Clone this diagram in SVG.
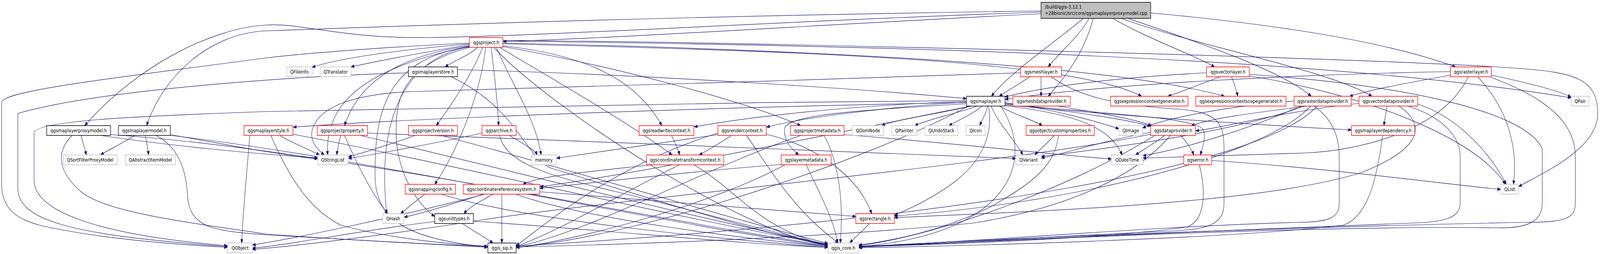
<svg xmlns="http://www.w3.org/2000/svg" width="4932" height="649" viewBox="0 0 4932 649" preserveAspectRatio="none">
<style>
svg{width:100vw;height:100vh}
.e{fill:none;stroke:#191970;stroke-width:1.2}
.b{fill:#ffffff;stroke-width:1.5}
.red{stroke:#ff0000}
.blk{stroke:#000000}
.gry{stroke:#bfbfbf}
text{font-family:"DejaVu Sans","Liberation Sans",sans-serif;font-size:13px;fill:#000000}
.c{text-anchor:middle}
</style>
<defs>
<marker id="arr" markerWidth="10" markerHeight="8" refX="10" refY="4" orient="auto" markerUnits="userSpaceOnUse"><path d="M0,0 L10,4 L0,8 z" fill="#191970" stroke="#191970"/></marker>
</defs>
<rect x="0" y="0" width="4932" height="649" fill="#ffffff"/>
<g id="edges">
<path class="e" marker-end="url(#arr)" d="M3209,31 C2500,50 1700,92 1323,96 C1050,99 930,58 820,64 C650,72 420,170 261,321"/>
<path class="e" marker-end="url(#arr)" d="M3209,28 C2500,36 1700,52 820,79 C640,85 500,200 452,321"/>
<path class="e" marker-end="url(#arr)" d="M3209,35 C2600,60 1900,98 1551,106"/>
<path class="e" marker-end="url(#arr)" d="M3339,47 C3250,110 3120,180 3056,246"/>
<path class="e" marker-end="url(#arr)" d="M3357,47 C3330,90 3270,130 3231,171"/>
<path class="e" marker-end="url(#arr)" d="M3370,47 C3340,140 3280,200 3231,246"/>
<path class="e" marker-end="url(#arr)" d="M3430,47 C3540,100 3680,140 3744,171"/>
<path class="e" marker-end="url(#arr)" d="M3456,47 C3700,120 4100,180 4229,246"/>
<path class="e" marker-end="url(#arr)" d="M3477,47 C3700,110 3950,180 4042,246"/>
<path class="e" marker-end="url(#arr)" d="M3547,33 C3900,60 4250,100 4487,171"/>
<path class="e" marker-end="url(#arr)" d="M1447,110 C1200,120 950,135 820,148 C400,195 5,230 5,262 L5,470 C5,540 60,560 120,575 C300,610 550,625 701,632"/>
<path class="e" marker-end="url(#arr)" d="M1447,112 C1200,130 1040,150 962,172"/>
<path class="e" marker-end="url(#arr)" d="M1447,114 C1300,135 1150,158 1082,171"/>
<path class="e" marker-end="url(#arr)" d="M1472,121 C1450,140 1400,155 1372,171"/>
<path class="e" marker-end="url(#arr)" d="M1488,121 C1450,200 1380,280 1345,321"/>
<path class="e" marker-end="url(#arr)" d="M1497,121 C1480,250 1400,400 1340,471"/>
<path class="e" marker-end="url(#arr)" d="M1514,121 C1525,200 1535,270 1537,321"/>
<path class="e" marker-end="url(#arr)" d="M1447,117 C1250,140 1110,200 1062,321"/>
<path class="e" marker-end="url(#arr)" d="M1447,118 C1150,170 1000,250 1010,396"/>
<path class="e" marker-end="url(#arr)" d="M1447,119 C1250,150 1160,300 1192,546"/>
<path class="e" marker-end="url(#arr)" d="M1447,121 C1230,170 1221,260 1221,340 C1221,430 1280,520 1340,553"/>
<path class="e" marker-end="url(#arr)" d="M1447,120 C1180,150 1155,300 1156,450 C1158,560 1250,610 1503,631"/>
<path class="e" marker-end="url(#arr)" d="M1530,121 C1580,220 1650,300 1668,396"/>
<path class="e" marker-end="url(#arr)" d="M1540,121 C1700,200 1950,320 2072,396"/>
<path class="e" marker-end="url(#arr)" d="M1550,117 C1800,140 1960,200 2040,321"/>
<path class="e" marker-end="url(#arr)" d="M1550,119 C1900,170 2300,260 2468,321"/>
<path class="e" marker-end="url(#arr)" d="M1550,112 C2400,130 3300,150 3519,246"/>
<path class="e" marker-end="url(#arr)" d="M1550,110 C2400,125 3400,160 3775,246"/>
<path class="e" marker-end="url(#arr)" d="M1550,105 C2500,115 4000,135 4843,250"/>
<path class="e" marker-end="url(#arr)" d="M1550,103 C2500,110 4300,150 4684,175 C4850,185 4925,200 4925,290 C4925,380 4760,440 4681,477"/>
<path class="e" marker-end="url(#arr)" d="M1522,121 C1700,280 2300,600 2552,627"/>
<path class="e" marker-end="url(#arr)" d="M1410,178 C2000,190 2700,230 2979,252"/>
<path class="e" marker-end="url(#arr)" d="M1259,186 C900,195 300,230 55,290 L55,480 C55,560 200,600 701,630"/>
<path class="e" marker-end="url(#arr)" d="M1391,196 C1600,280 1615,400 1700,430 C1900,480 2350,600 2552,626"/>
<path class="e" marker-end="url(#arr)" d="M250,346 C255,365 262,380 266,396"/>
<path class="e" marker-end="url(#arr)" d="M310,346 C500,370 800,395 979,403"/>
<path class="e" marker-end="url(#arr)" d="M341,344 C1000,380 2000,560 2552,628"/>
<path class="e" marker-end="url(#arr)" d="M222,346 C170,390 180,440 250,490 C330,545 600,570 820,598 C1100,615 1350,625 1503,630"/>
<path class="e" marker-end="url(#arr)" d="M415,346 C380,365 330,385 310,396"/>
<path class="e" marker-end="url(#arr)" d="M448,346 C452,365 456,380 458,396"/>
<path class="e" marker-end="url(#arr)" d="M525,344 C700,370 880,398 979,406"/>
<path class="e" marker-end="url(#arr)" d="M481,346 C560,380 575,450 578,500 C585,580 650,590 820,600 C1100,615 1350,626 1503,632"/>
<path class="e" marker-end="url(#arr)" d="M525,346 C1100,400 2100,580 2552,630"/>
<path class="e" marker-end="url(#arr)" d="M770,346 C760,450 748,550 745,621"/>
<path class="e" marker-end="url(#arr)" d="M862,346 C900,365 960,385 985,396"/>
<path class="e" marker-end="url(#arr)" d="M835,346 C880,430 940,530 1050,575 C1200,610 1400,625 1503,629"/>
<path class="e" marker-end="url(#arr)" d="M903,343 C1400,420 2100,560 2552,625"/>
<path class="e" marker-end="url(#arr)" d="M1050,346 C1045,365 1040,380 1038,396"/>
<path class="e" marker-end="url(#arr)" d="M1062,346 C1100,420 1150,500 1195,546"/>
<path class="e" marker-end="url(#arr)" d="M1133,340 C1800,360 2800,395 3131,405"/>
<path class="e" marker-end="url(#arr)" d="M1110,346 C1500,420 2200,570 2552,624"/>
<path class="e" marker-end="url(#arr)" d="M1280,346 C1200,370 1120,390 1074,401"/>
<path class="e" marker-end="url(#arr)" d="M1360,346 C1700,420 2300,570 2552,622"/>
<path class="e" marker-end="url(#arr)" d="M1486,340 C1350,365 1150,395 1074,405"/>
<path class="e" marker-end="url(#arr)" d="M1540,346 C1560,420 1700,450 1900,490 C2200,550 2450,610 2552,624"/>
<path class="e" marker-end="url(#arr)" d="M1570,346 C1620,370 1650,385 1656,396"/>
<path class="e" marker-end="url(#arr)" d="M2070,346 C2080,365 2090,380 2095,396"/>
<path class="e" marker-end="url(#arr)" d="M2255,346 C2220,365 2180,385 2155,396"/>
<path class="e" marker-end="url(#arr)" d="M2213,344 C2000,370 1800,395 1716,404"/>
<path class="e" marker-end="url(#arr)" d="M2362,343 C2500,370 2640,440 2687,546"/>
<path class="e" marker-end="url(#arr)" d="M2301,346 C2380,440 2450,540 2585,621"/>
<path class="e" marker-end="url(#arr)" d="M2213,340 C1900,420 1700,560 1591,628"/>
<path class="e" marker-end="url(#arr)" d="M2010,421 C1800,440 1660,450 1612,471"/>
<path class="e" marker-end="url(#arr)" d="M2095,421 C1900,500 1750,580 1591,630"/>
<path class="e" marker-end="url(#arr)" d="M2139,421 C2280,490 2330,580 2552,628"/>
<path class="e" marker-end="url(#arr)" d="M1490,496 C1400,520 1300,545 1246,555"/>
<path class="e" marker-end="url(#arr)" d="M1520,496 C1480,515 1445,530 1430,546"/>
<path class="e" marker-end="url(#arr)" d="M1547,496 L1547,621"/>
<path class="e" marker-end="url(#arr)" d="M1590,496 C1800,560 2300,610 2552,630"/>
<path class="e" marker-end="url(#arr)" d="M1495,496 C1200,560 900,610 778,626"/>
<path class="e" marker-end="url(#arr)" d="M1664,490 C2100,520 2500,545 2638,553"/>
<path class="e" marker-end="url(#arr)" d="M1310,496 C1280,515 1250,535 1235,546"/>
<path class="e" marker-end="url(#arr)" d="M1360,496 C1600,560 2200,610 2552,632"/>
<path class="e" marker-end="url(#arr)" d="M1340,566 C1100,590 900,625 778,634"/>
<path class="e" marker-end="url(#arr)" d="M1425,571 C1460,590 1500,610 1520,621"/>
<path class="e" marker-end="url(#arr)" d="M1459,565 C1900,590 2300,625 2552,632"/>
<path class="e" marker-end="url(#arr)" d="M2680,571 C2660,590 2630,610 2620,621"/>
<path class="e" marker-end="url(#arr)" d="M2410,420 C2100,440 1800,470 1664,481"/>
<path class="e" marker-end="url(#arr)" d="M2485,421 C2530,500 2570,560 2582,621"/>
<path class="e" marker-end="url(#arr)" d="M2420,421 C2200,520 1800,610 1591,633"/>
<path class="e" marker-end="url(#arr)" d="M2602,344 C3000,370 3300,400 3426,406"/>
<path class="e" marker-end="url(#arr)" d="M2540,346 C2590,420 2600,530 2590,621"/>
<path class="e" marker-end="url(#arr)" d="M2470,346 C2200,420 1800,600 1591,630"/>
<path class="e" marker-end="url(#arr)" d="M3250,346 C3230,365 3200,385 3190,396"/>
<path class="e" marker-end="url(#arr)" d="M3263,346 C3250,420 3200,460 3050,530 C2900,590 2750,615 2647,626"/>
<path class="e" marker-end="url(#arr)" d="M3590,346 C3560,365 3520,385 3500,396"/>
<path class="e" marker-end="url(#arr)" d="M3640,346 C3660,365 3675,385 3680,396"/>
<path class="e" marker-end="url(#arr)" d="M3547,338 C3400,360 3270,395 3210,404"/>
<path class="e" marker-end="url(#arr)" d="M3547,343 C3100,420 2000,500 1500,560 C1200,600 900,630 778,637"/>
<path class="e" marker-end="url(#arr)" d="M3608,346 C3500,450 3300,530 3000,570 C2500,610 1900,625 1591,631"/>
<path class="e" marker-end="url(#arr)" d="M3560,346 C3300,480 2900,600 2647,628"/>
<path class="e" marker-end="url(#arr)" d="M3735,410 C4100,430 4450,470 4626,484"/>
<path class="e" marker-end="url(#arr)" d="M3697,421 C3715,480 3720,560 3660,580 C3400,610 2900,625 2647,630"/>
<path class="e" marker-end="url(#arr)" d="M4262,346 C4245,450 4220,550 4143,575 C3800,610 3000,628 2647,633"/>
<path class="e" marker-end="url(#arr)" d="M4276,271 C4272,290 4268,305 4266,321"/>
<path class="e" marker-end="url(#arr)" d="M4370,266 C4500,300 4600,400 4643,471"/>
<path class="e" marker-end="url(#arr)" d="M4340,271 C4450,300 4501,350 4501,400 L4501,520 C4501,560 4440,568 4350,570 C3800,585 3000,620 2647,631"/>
<path class="e" marker-end="url(#arr)" d="M4189,264 C3950,285 3750,330 3686,334"/>
<path class="e" marker-end="url(#arr)" d="M4312,271 C4400,320 4380,380 4200,440 C3900,520 3200,540 2757,556"/>
<path class="e" marker-end="url(#arr)" d="M4030,271 C3900,285 3740,300 3672,321"/>
<path class="e" marker-end="url(#arr)" d="M3989,258 C3800,270 3600,300 3522,327"/>
<path class="e" marker-end="url(#arr)" d="M4010,271 C3850,330 3650,380 3523,398"/>
<path class="e" marker-end="url(#arr)" d="M4020,271 C3800,340 3400,380 3210,400"/>
<path class="e" marker-end="url(#arr)" d="M4050,271 C4100,300 4128,340 4128,400 L4128,520 C4128,555 4100,568 4000,568 C3500,580 3000,620 2647,629"/>
<path class="e" marker-end="url(#arr)" d="M4060,271 C3900,420 3000,560 1591,629"/>
<path class="e" marker-end="url(#arr)" d="M4040,271 C3900,400 3300,520 2757,552"/>
<path class="e" marker-end="url(#arr)" d="M3719,186 C3400,200 3200,225 3098,248"/>
<path class="e" marker-end="url(#arr)" d="M3762,196 C3700,215 3640,235 3600,246"/>
<path class="e" marker-end="url(#arr)" d="M3796,196 C3805,215 3812,232 3815,246"/>
<path class="e" marker-end="url(#arr)" d="M3851,190 C4300,215 4700,280 4754,380 L4754,520 C4754,570 4700,585 4600,582 C4000,575 3000,620 2647,630"/>
<path class="e" marker-end="url(#arr)" d="M3851,194 C4200,240 4550,350 4640,471"/>
<path class="e" marker-end="url(#arr)" d="M4471,183 C4000,190 3400,215 3098,254"/>
<path class="e" marker-end="url(#arr)" d="M4471,192 C4350,210 4220,230 4160,246"/>
<path class="e" marker-end="url(#arr)" d="M4526,196 C4450,330 4200,385 4020,391 C3800,398 3600,402 3523,404"/>
<path class="e" marker-end="url(#arr)" d="M4555,196 C4650,280 4680,380 4665,471"/>
<path class="e" marker-end="url(#arr)" d="M4597,192 C4700,210 4800,230 4843,248"/>
<path class="e" marker-end="url(#arr)" d="M4597,198 C4800,260 4856,330 4856,400 L4856,520 C4856,560 4820,568 4700,568 C4300,575 3200,600 2647,632"/>
<path class="e" marker-end="url(#arr)" d="M3260,271 C3400,290 3500,305 3550,321"/>
<path class="e" marker-end="url(#arr)" d="M3175,196 C3140,215 3100,235 3080,246"/>
<path class="e" marker-end="url(#arr)" d="M3209,196 L3209,246"/>
<path class="e" marker-end="url(#arr)" d="M3146,186 C2600,205 1500,225 1270,234 C1100,240 980,270 962,334 C955,360 975,380 1000,396"/>
<path class="e" marker-end="url(#arr)" d="M3240,196 C3330,250 3450,270 3650,280 C3760,290 3773,320 3773,380 L3773,520 C3773,575 3720,585 3620,590 C3200,605 2900,625 2647,631"/>
<path class="e" marker-end="url(#arr)" d="M2995,271 C2900,290 2760,305 2718,321"/>
<path class="e" marker-end="url(#arr)" d="M3012,271 C2950,290 2860,305 2820,321"/>
<path class="e" marker-end="url(#arr)" d="M3028,271 C3000,290 2960,305 2925,321"/>
<path class="e" marker-end="url(#arr)" d="M3044,271 C3040,290 3028,305 3020,321"/>
<path class="e" marker-end="url(#arr)" d="M3080,271 C3120,290 3180,305 3213,321"/>
<path class="e" marker-end="url(#arr)" d="M3055,271 C3080,320 3130,360 3153,396"/>
<path class="e" marker-end="url(#arr)" d="M3047,271 C3060,330 3040,400 2950,460 C2880,505 2800,535 2757,550"/>
<path class="e" marker-end="url(#arr)" d="M2979,265 C2700,280 2420,290 2418,330 C2416,360 2440,380 2462,396"/>
<path class="e" marker-end="url(#arr)" d="M2979,257 C2200,262 1200,275 820,285 C500,295 105,305 105,340 L105,460 C105,540 300,600 701,628"/>
<path class="e" marker-end="url(#arr)" d="M2979,262 C2300,272 1300,300 904,325"/>
<path class="e" marker-end="url(#arr)" d="M2979,259 C2600,270 2300,300 2140,324"/>
<path class="e" marker-end="url(#arr)" d="M2979,261 C2700,275 2450,305 2363,325"/>
<path class="e" marker-end="url(#arr)" d="M2990,271 C2700,320 2000,440 1665,477"/>
<path class="e" marker-end="url(#arr)" d="M3098,262 C3250,280 3380,310 3449,329"/>
<path class="e" marker-end="url(#arr)" d="M3098,264 C3300,285 3480,305 3547,323"/>
<path class="e" marker-end="url(#arr)" d="M3098,266 C3400,290 3680,300 3708,330 C3720,350 3705,380 3700,396"/>
<path class="e" marker-end="url(#arr)" d="M3098,268 C3500,300 3900,320 4166,332"/>
<path class="e" marker-end="url(#arr)" d="M3098,270 C3300,290 3420,320 3459,396"/>
<path class="e" marker-end="url(#arr)" d="M3085,271 C3200,420 3100,600 2647,630"/>
<path class="e" marker-end="url(#arr)" d="M2985,271 C2700,400 2000,600 1591,632"/>
</g>
<g id="n_src"><rect x="3209" y="6" width="338" height="41" fill="#bfbfbf" stroke="#000000" stroke-width="1.5"/><text x="3221" y="22">/build/qgis-3.12.1</text><text x="3221" y="38">+28bionic/src/core/qgsmaplayerproxymodel.cpp</text></g>
<g id="n_mlpm"><rect class="b blk" x="144" y="321" width="197" height="25"/><text class="c" x="242.5" y="338">qgsmaplayerproxymodel.h</text></g>
<g id="n_mlm"><rect class="b blk" x="365" y="321" width="160" height="25"/><text class="c" x="445" y="338">qgsmaplayermodel.h</text></g>
<g id="n_mlstyle"><rect class="b red" x="752" y="321" width="151" height="25"/><text class="c" x="827.5" y="338">qgsmaplayerstyle.h</text></g>
<g id="n_qsfpm"><rect class="b gry" x="195" y="396" width="166" height="25"/><text class="c" x="278" y="413">QSortFilterProxyModel</text></g>
<g id="n_qaim"><rect class="b gry" x="386" y="396" width="155" height="25"/><text class="c" x="463.5" y="413">QAbstractItemModel</text></g>
<g id="n_qobject"><rect class="b gry" x="702" y="621" width="76" height="25"/><text class="c" x="740" y="638">QObject</text></g>
<g id="n_qfileinfo"><rect class="b gry" x="884" y="171" width="78" height="25"/><text class="c" x="923" y="188">QFileInfo</text></g>
<g id="n_qtranslator"><rect class="b gry" x="987" y="171" width="95" height="25"/><text class="c" x="1034.5" y="188">QTranslator</text></g>
<g id="n_mlstore"><rect class="b blk" x="1259" y="171" width="151" height="25"/><text class="c" x="1334.5" y="188">qgsmaplayerstore.h</text></g>
<g id="n_project"><rect class="b red" x="1447" y="96" width="103" height="25"/><text class="c" x="1498.5" y="113">qgsproject.h</text></g>
<g id="n_pp"><rect class="b red" x="978" y="321" width="155" height="25"/><text class="c" x="1055.5" y="338">qgsprojectproperty.h</text></g>
<g id="n_pv"><rect class="b red" x="1259" y="321" width="151" height="25"/><text class="c" x="1334.5" y="338">qgsprojectversion.h</text></g>
<g id="n_archive"><rect class="b red" x="1486" y="321" width="105" height="25"/><text class="c" x="1538.5" y="338">qgsarchive.h</text></g>
<g id="n_qstringlist"><rect class="b gry" x="979" y="396" width="94" height="25"/><text class="c" x="1026" y="413">QStringList</text></g>
<g id="n_snap"><rect class="b red" x="1249" y="471" width="155" height="25"/><text class="c" x="1326.5" y="488">qgssnappingconfig.h</text></g>
<g id="n_crs"><rect class="b red" x="1428" y="471" width="236" height="25"/><text class="c" x="1546" y="488">qgscoordinatereferencesystem.h</text></g>
<g id="n_qhash"><rect class="b gry" x="1179" y="546" width="66" height="25"/><text class="c" x="1212" y="563">QHash</text></g>
<g id="n_ut"><rect class="b blk" x="1340" y="546" width="119" height="25"/><text class="c" x="1399.5" y="563">qgsunittypes.h</text></g>
<g id="n_sip"><rect class="b blk" x="1504" y="621" width="87" height="25"/><text class="c" x="1547.5" y="638">qgis_sip.h</text></g>
<g id="n_memory"><rect class="b gry" x="1638" y="396" width="77" height="25"/><text class="c" x="1676.5" y="413">memory</text></g>
<g id="n_rwc"><rect class="b red" x="1970" y="321" width="169" height="25"/><text class="c" x="2054.5" y="338">qgsreadwritecontext.h</text></g>
<g id="n_rc"><rect class="b red" x="2213" y="321" width="149" height="25"/><text class="c" x="2287.5" y="338">qgsrendercontext.h</text></g>
<g id="n_ctc"><rect class="b red" x="1993" y="396" width="238" height="25"/><text class="c" x="2112" y="413">qgscoordinatetransformcontext.h</text></g>
<g id="n_lm"><rect class="b red" x="2408" y="396" width="154" height="25"/><text class="c" x="2485" y="413">qgslayermetadata.h</text></g>
<g id="n_ml"><rect class="b blk" x="2979" y="246" width="119" height="25"/><text class="c" x="3038.5" y="263">qgsmaplayer.h</text></g>
<g id="n_meshl"><rect class="b red" x="3146" y="171" width="126" height="25"/><text class="c" x="3209" y="188">qgsmeshlayer.h</text></g>
<g id="n_mdp"><rect class="b red" x="3122" y="246" width="177" height="25"/><text class="c" x="3210.5" y="263">qgsmeshdataprovider.h</text></g>
<g id="n_pm"><rect class="b red" x="2437" y="321" width="165" height="25"/><text class="c" x="2519.5" y="338">qgsprojectmetadata.h</text></g>
<g id="n_qdomnode"><rect class="b gry" x="2627" y="321" width="97" height="25"/><text class="c" x="2675.5" y="338">QDomNode</text></g>
<g id="n_qpainter"><rect class="b gry" x="2749" y="321" width="77" height="25"/><text class="c" x="2787.5" y="338">QPainter</text></g>
<g id="n_qundostack"><rect class="b gry" x="2851" y="321" width="102" height="25"/><text class="c" x="2902" y="338">QUndoStack</text></g>
<g id="n_qicon"><rect class="b gry" x="2978" y="321" width="59" height="25"/><text class="c" x="3007.5" y="338">QIcon</text></g>
<g id="n_ocp"><rect class="b red" x="3163" y="321" width="210" height="25"/><text class="c" x="3268" y="338">qgsobjectcustomproperties.h</text></g>
<g id="n_qvariant"><rect class="b gry" x="3131" y="396" width="79" height="25"/><text class="c" x="3170.5" y="413">QVariant</text></g>
<g id="n_rect"><rect class="b red" x="2638" y="546" width="119" height="25"/><text class="c" x="2697.5" y="563">qgsrectangle.h</text></g>
<g id="n_core"><rect class="b gry" x="2552" y="621" width="95" height="25"/><text class="c" x="2599.5" y="638">qgis_core.h</text></g>
<g id="n_vl"><rect class="b red" x="3719" y="171" width="132" height="25"/><text class="c" x="3785" y="188">qgsvectorlayer.h</text></g>
<g id="n_ecg"><rect class="b red" x="3423" y="246" width="239" height="25"/><text class="c" x="3542.5" y="263">qgsexpressioncontextgenerator.h</text></g>
<g id="n_ecsg"><rect class="b red" x="3686" y="246" width="278" height="25"/><text class="c" x="3825" y="263">qgsexpressioncontextscopegenerator.h</text></g>
<g id="n_rdp"><rect class="b red" x="3989" y="246" width="176" height="25"/><text class="c" x="4077" y="263">qgsrasterdataprovider.h</text></g>
<g id="n_qimage"><rect class="b gry" x="3449" y="321" width="73" height="25"/><text class="c" x="3485.5" y="338">QImage</text></g>
<g id="n_dp"><rect class="b red" x="3547" y="321" width="138" height="25"/><text class="c" x="3616" y="338">qgsdataprovider.h</text></g>
<g id="n_qdatetime"><rect class="b gry" x="3426" y="396" width="97" height="25"/><text class="c" x="3474.5" y="413">QDateTime</text></g>
<g id="n_err"><rect class="b red" x="3649" y="396" width="86" height="25"/><text class="c" x="3692" y="413">qgserror.h</text></g>
<g id="n_rl"><rect class="b red" x="4471" y="171" width="126" height="25"/><text class="c" x="4534" y="188">qgsrasterlayer.h</text></g>
<g id="n_vdp"><rect class="b red" x="4189" y="246" width="181" height="25"/><text class="c" x="4279.5" y="263">qgsvectordataprovider.h</text></g>
<g id="n_qpair"><rect class="b gry" x="4843" y="246" width="55" height="25"/><text class="c" x="4870.5" y="263">QPair</text></g>
<g id="n_dep"><rect class="b red" x="4166" y="321" width="195" height="25"/><text class="c" x="4263.5" y="338">qgsmaplayerdependency.h</text></g>
<g id="n_qlist"><rect class="b gry" x="4626" y="471" width="55" height="25"/><text class="c" x="4653.5" y="488">QList</text></g>
</svg>
